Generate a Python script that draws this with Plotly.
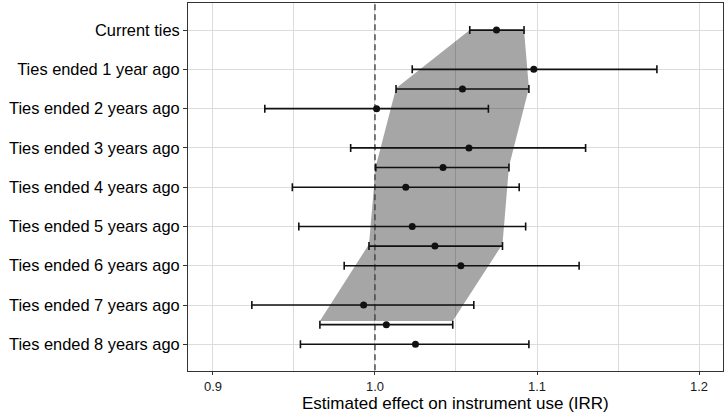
import plotly.graph_objects as go

categories = ["Current ties", "Ties ended 1 year ago", "Ties ended 2 years ago",
              "Ties ended 3 years ago", "Ties ended 4 years ago", "Ties ended 5 years ago",
              "Ties ended 6 years ago", "Ties ended 7 years ago", "Ties ended 8 years ago"]
cat_pos = [0, 1, 2, 3, 4, 5, 6, 7, 8]
est = [1.075, 1.098, 1.001, 1.058, 1.019, 1.023, 1.053, 0.993, 1.025]
lo = [1.0585, 1.023, 0.932, 0.985, 0.949, 0.953, 0.981, 0.924, 0.954]
hi = [1.092, 1.174, 1.070, 1.130, 1.089, 1.093, 1.126, 1.061, 1.095]

# pooled estimates, placed between yearly categories
pooled_pos = [1.5, 3.5, 5.5, 7.5]
pooled_est = [1.054, 1.042, 1.037, 1.007]
pooled_lo = [1.013, 1.0005, 0.9963, 0.966]
pooled_hi = [1.095, 1.0827, 1.0787, 1.048]

# band outline (current ties CI joined to pooled CIs)
band_pos = [0, 1.48, 3.47, 5.45, 7.41]
band_lo = [1.0585, 1.013, 1.0005, 0.9963, 0.966]
band_hi = [1.092, 1.095, 1.0827, 1.0787, 1.048]

ref_value = 1.0
x_range = [0.8846, 1.2148]
y_range = [8.68, -0.69]
x_title = "Estimated effect on instrument use (IRR)"

ink = "#111111"
fig = go.Figure()

fig.add_trace(go.Scatter(
    x=band_lo + band_hi[::-1], y=band_pos + band_pos[::-1],
    fill="toself", mode="lines", line=dict(width=0),
    fillcolor="rgba(0,0,0,0.35)", hoverinfo="skip", showlegend=False))

fig.add_trace(go.Scatter(
    x=[ref_value, ref_value], y=[y_range[0] + 1, y_range[1] - 1], mode="lines",
    line=dict(color="#444444", width=1.4, dash="6px,4px"),
    hoverinfo="skip", showlegend=False))

all_pos = cat_pos + pooled_pos
all_est = est + pooled_est
all_lo = lo + pooled_lo
all_hi = hi + pooled_hi

fig.add_trace(go.Scatter(
    x=all_est, y=all_pos, mode="markers",
    marker=dict(color=ink, size=7),
    error_x=dict(type="data", symmetric=False,
                 array=[h - e for h, e in zip(all_hi, all_est)],
                 arrayminus=[e - l for e, l in zip(all_est, all_lo)],
                 color=ink, thickness=1.6, width=4),
    showlegend=False))

grid = "#dcdcdc"
fig.update_layout(
    width=725, height=412,
    margin=dict(l=188, r=2, t=3, b=41),
    paper_bgcolor="white", plot_bgcolor="white",
    font=dict(family="Liberation Sans, Arial, sans-serif", color="#000000"),
    xaxis=dict(
        range=x_range, tickvals=[0.9, 1.0, 1.1, 1.2], ticktext=["0.9", "1.0", "1.1", "1.2"],
        showgrid=True, gridcolor=grid, gridwidth=1.3,
        minor=dict(tickvals=[0.95, 1.05, 1.15], showgrid=True, gridcolor=grid, gridwidth=1.3, ticks=""),
        ticks="outside", ticklen=3, tickcolor="#333333", tickwidth=1,
        tickfont=dict(size=13, color="#1a1a1a"),
        showline=True, mirror=True, linecolor="#333333", linewidth=1,
        zeroline=False, automargin=False,
    ),
    yaxis=dict(
        range=y_range, tickvals=cat_pos, ticktext=categories,
        showgrid=True, gridcolor=grid, gridwidth=1.3,
        ticks="outside", ticklen=4, tickcolor="#333333", tickwidth=1,
        tickfont=dict(size=16.4, color="#000000"),
        showline=True, mirror=True, linecolor="#333333", linewidth=1,
        zeroline=False, automargin=False,
    ),
    annotations=[dict(text=x_title, xref="paper", yref="paper", x=0.5, y=0,
                      xanchor="center", yanchor="top", yshift=-21, showarrow=False,
                      font=dict(size=17, color="#000000"))],
)

fig.write_html("out.html", config={"displayModeBar": False},
               post_script="document.body.style.margin='0';document.body.style.overflow='hidden';")
